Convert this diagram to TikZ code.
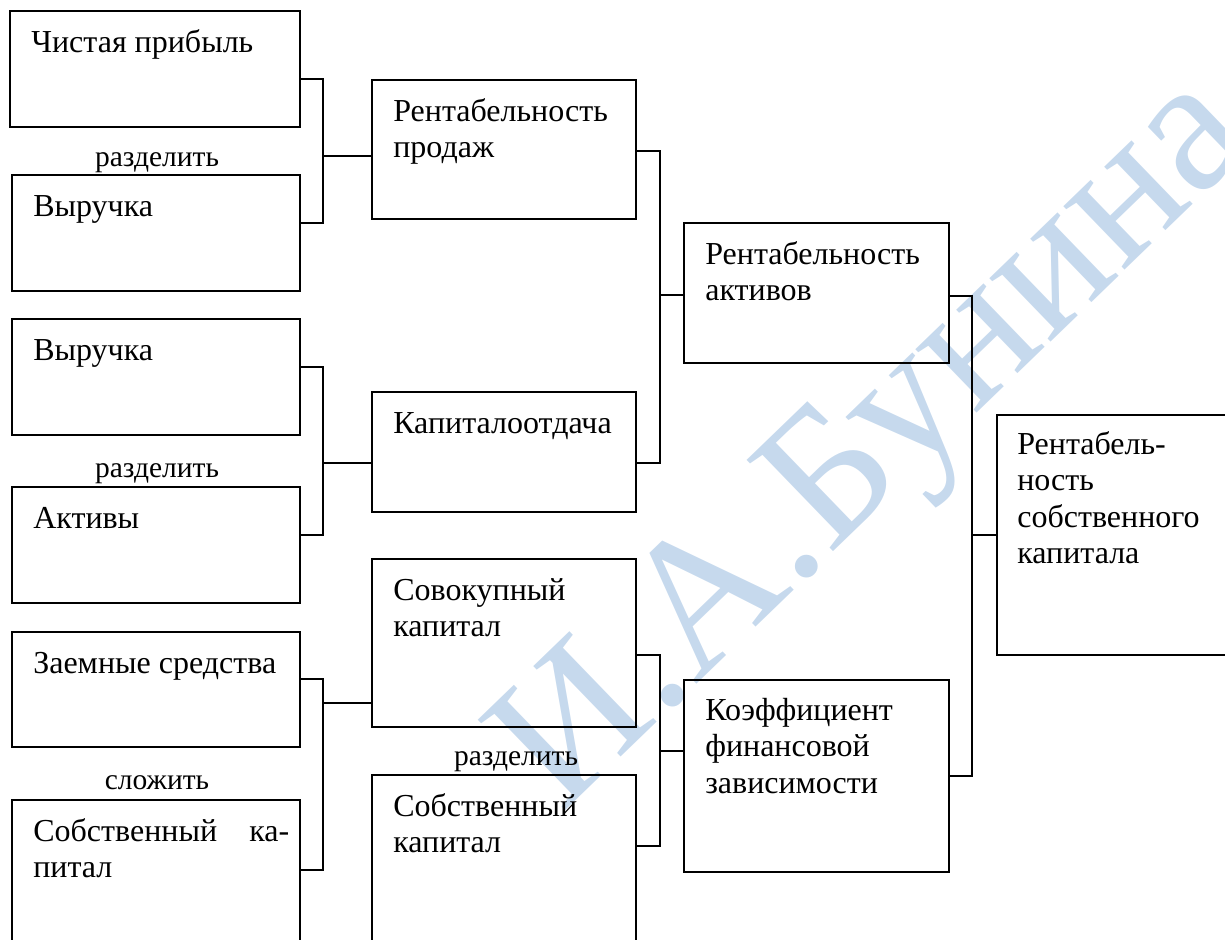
\documentclass[tikz,border=0pt]{standalone}
\usepackage{fontspec}
\setmainfont{Liberation Serif}
\usetikzlibrary{calc}
\definecolor{wmblue}{RGB}{198,217,237}
\begin{document}
\begin{tikzpicture}[x=1pt,y=-1pt,
  boxs/.style={draw=black, line width=1.8pt, fill=none, inner sep=0pt},
  txt/.style={anchor=north west, inner sep=0pt, align=left, font=\fontsize{32}{36.5}\selectfont},
  lbl/.style={anchor=base, inner sep=0pt, font=\fontsize{29.5}{32}\selectfont},
  conn/.style={draw=black, line width=1.8pt},
  wmark/.style={text=wmblue, inner sep=0pt, font=\fontsize{192}{192}\selectfont}]
\useasboundingbox (0,0) rectangle (1225,939);
\clip (0,0) rectangle (1225,939);

% watermark
\node[wmark, rotate=44] (wm) at (880,448) {И.А.Бунина};

% boxes
\node[boxs, minimum width=290pt, minimum height=116pt] (b1) at (155,69) {};
\node[boxs, minimum width=288pt, minimum height=116pt] (b2) at (156,233) {};
\node[boxs, minimum width=288pt, minimum height=116pt] (b3) at (156,377) {};
\node[boxs, minimum width=288pt, minimum height=116pt] (b4) at (156,545) {};
\node[boxs, minimum width=288pt, minimum height=115pt] (b5) at (156,689.5) {};
\node[boxs, minimum width=288pt, minimum height=180pt] (b6) at (156,890) {};
\node[boxs, minimum width=264pt, minimum height=139pt] (b7) at (504,149.5) {};
\node[boxs, minimum width=264pt, minimum height=120pt] (b8) at (504,452) {};
\node[boxs, minimum width=264pt, minimum height=168pt] (b9) at (504,643) {};
\node[boxs, minimum width=264pt, minimum height=205pt] (b10) at (504,877.5) {};
\node[boxs, minimum width=265pt, minimum height=140pt] (b11) at (816.5,293) {};
\node[boxs, minimum width=265pt, minimum height=192pt] (b12) at (816.5,776) {};
\node[boxs, minimum width=253pt, minimum height=240pt] (b13) at (1123.5,535) {};

% texts
\node[txt] (t1) at ($(b1.north west)+(22,12)$) {\rule{0pt}{30pt}Чистая прибыль};
\node[txt] (t2) at ($(b2.north west)+(22,12)$) {\rule{0pt}{30pt}Выручка};
\node[txt] (t3) at ($(b3.north west)+(22,12)$) {\rule{0pt}{30pt}Выручка};
\node[txt] (t4) at ($(b4.north west)+(22,12)$) {\rule{0pt}{30pt}Активы};
\node[txt] (t5) at ($(b5.north west)+(22,12)$) {\rule{0pt}{30pt}Заемные средства};
\node[txt] (t6) at ($(b6.north west)+(22,12)$) {\rule{0pt}{30pt}\makebox[256pt][l]{Собственный\hfill ка-}\\питал};
\node[txt] (t7) at ($(b7.north west)+(22,12)$) {\rule{0pt}{30pt}Рентабельность\\продаж};
\node[txt] (t8) at ($(b8.north west)+(22,12)$) {\rule{0pt}{30pt}Капиталоотдача};
\node[txt] (t9) at ($(b9.north west)+(22,12)$) {\rule{0pt}{30pt}Совокупный\\капитал};
\node[txt] (t10) at ($(b10.north west)+(22,12)$) {\rule{0pt}{30pt}Собственный\\капитал};
\node[txt] (t11) at ($(b11.north west)+(22,12)$) {\rule{0pt}{30pt}Рентабельность\\активов};
\node[txt] (t12) at ($(b12.north west)+(22,11)$) {\rule{0pt}{30pt}Коэффициент\\финансовой\\зависимости};
\node[txt] (t13) at ($(b13.north west)+(21,10)$) {\rule{0pt}{30pt}Рентабель-\\ность\\собственного\\капитала};

% operation labels
\node[lbl] (l1) at (157,166) {разделить};
\node[lbl] (l2) at (157,477) {разделить};
\node[lbl] (l3) at (157,789) {сложить};
\node[lbl] (l4) at (516,765) {разделить};

% junctions
\coordinate (j1) at (323,156);
\coordinate (j2) at (323,463);
\coordinate (j3) at (323,703);
\coordinate (j4) at (660,295);
\coordinate (j5) at (660,751);
\coordinate (j6) at (972,535);

% connectors
\draw[conn] ($(b1.east)+(0,10)$) -| (j1) |- ($(b2.east)+(0,-10)$);
\draw[conn] (j1) -- (b7.west |- j1);
\draw[conn] ($(b3.east)+(0,-10)$) -| (j2) |- ($(b4.east)+(0,-10)$);
\draw[conn] (j2) -- (b8.west |- j2);
\draw[conn] ($(b5.east)+(0,-10.5)$) -| (j3) |- ($(b6.north east)+(0,71)$);
\draw[conn] (j3) -- (b9.west |- j3);
\draw[conn] ($(b7.east)+(0,1.5)$) -| (j4) |- ($(b8.east)+(0,11)$);
\draw[conn] (j4) -- (b11.west |- j4);
\draw[conn] ($(b9.east)+(0,12)$) -| (j5) |- ($(b10.north east)+(0,72)$);
\draw[conn] (j5) -- (b12.west |- j5);
\draw[conn] ($(b11.east)+(0,3)$) -| (j6) |- (b12.east);
\draw[conn] (j6) -- (b13.west |- j6);
\end{tikzpicture}
\end{document}
